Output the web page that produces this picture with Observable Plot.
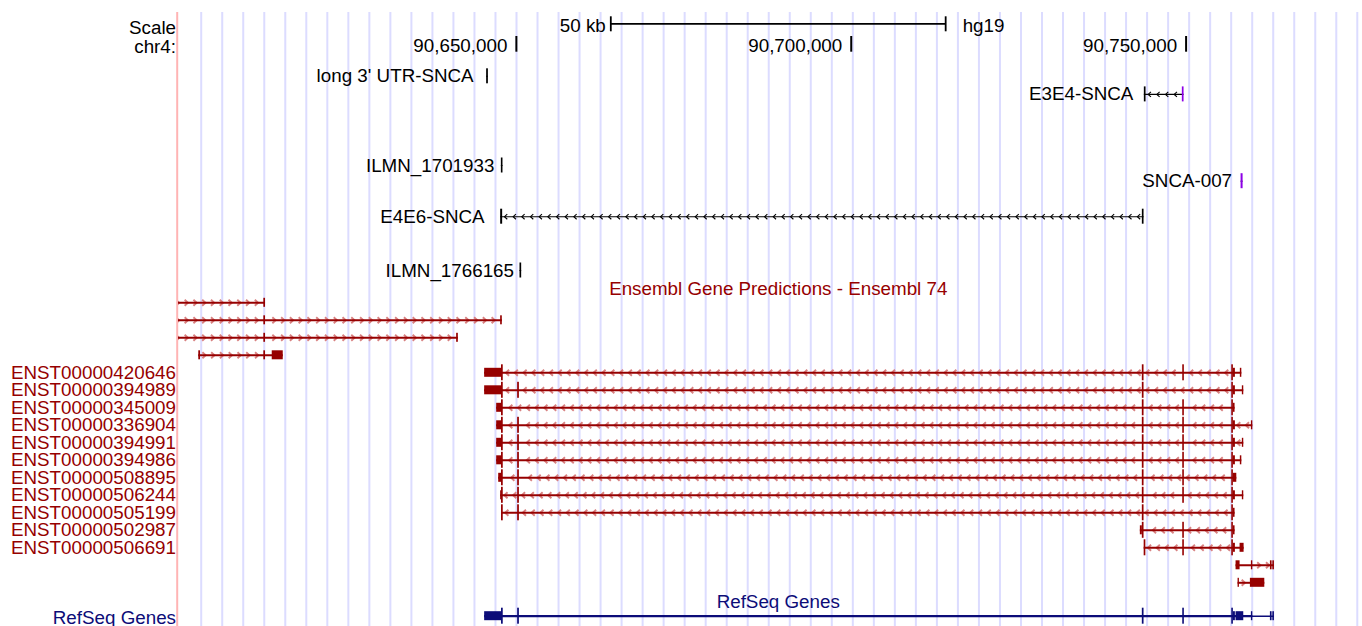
<!DOCTYPE html>
<html><head><meta charset="utf-8">
<script src="https://cdn.jsdelivr.net/npm/d3@7"></script>
<script src="https://cdn.jsdelivr.net/npm/@observablehq/plot@0.6"></script>
<style>
html,body{margin:0;padding:0;background:#fff}
#chart svg{display:block}
</style>
</head><body><div id="chart"></div>
<script>
// ---------------- data (genomic coordinates, hg19 chr4) ----------------
const chromLabel = "chr4:";
const scaleLabel = "Scale";
const assembly = "hg19";
const viewRange = [90599550, 90776340];
const rulerTicks = [90650000, 90700000, 90750000];
const scaleBarSpan = [90664100, 90714100];
const scaleBarText = "50 kb";

// custom tracks (one item each)
const customNames  = ["long 3' UTR-SNCA", "E3E4-SNCA", "ILMN_1701933", "SNCA-007", "E4E6-SNCA", "ILMN_1766165"];
const customStrand = [".", "-", ".", ".", "-", "."];
const customBlocks = [
  [[90645560, 90645820, "exon"]],
  [[90743766, 90744020, "exon"], [90749440, 90749695, "mark"]],
  [[90647760, 90648000, "exon"]],
  [[90758210, 90758510, "mark"]],
  [[90647654, 90647950, "exon"], [90743470, 90743720, "exon"]],
  [[90650540, 90650790, "exon"]]
];

// Ensembl Gene Predictions - Ensembl 74
const ensemblTitle = "Ensembl Gene Predictions - Ensembl 74";
const ensemblNames = ["", "", "", "",
  "ENST00000420646", "ENST00000394989", "ENST00000345009", "ENST00000336904",
  "ENST00000394991", "ENST00000394986", "ENST00000508895", "ENST00000506244",
  "ENST00000505199", "ENST00000502987", "ENST00000506691", "", ""];
const ensemblStrand = ["+", "+", "+", "+", "-", "-", "-", "-", "-", "-", "-", "-", "-", "-", "-", "+", "+"];
const ensemblExons = [
  [[90596000, 90596300, "utr"], [90612290, 90612545, "utr"]],
  [[90596000, 90596300, "utr"], [90612290, 90612545, "utr"], [90647650, 90647900, "utr"]],
  [[90596000, 90596300, "utr"], [90612290, 90612545, "utr"], [90641080, 90641335, "utr"]],
  [[90602580, 90602834, "utr"], [90612290, 90612545, "utr"], [90613546, 90615190, "utr"]],
  [[90645264, 90647780, "utr"], [90647780, 90648040, "cds"], [90743465, 90743720, "cds"], [90749500, 90749740, "cds"], [90756820, 90757060, "cds"], [90757060, 90757360, "utr"], [90758100, 90758320, "utr"]],
  [[90645264, 90647780, "utr"], [90647780, 90648040, "cds"], [90650190, 90650450, "cds"], [90743465, 90743720, "cds"], [90756820, 90757060, "cds"], [90757060, 90757360, "utr"], [90758400, 90758610, "utr"]],
  [[90647060, 90647780, "utr"], [90647780, 90648040, "cds"], [90743465, 90743720, "cds"], [90749500, 90749740, "cds"], [90756820, 90757060, "cds"], [90757060, 90757310, "utr"]],
  [[90647060, 90647780, "utr"], [90647780, 90648040, "cds"], [90650190, 90650450, "cds"], [90743465, 90743720, "cds"], [90749500, 90749740, "cds"], [90756820, 90757060, "cds"], [90757060, 90757360, "utr"], [90759750, 90759960, "utr"]],
  [[90647060, 90647780, "utr"], [90647780, 90648040, "cds"], [90650190, 90650450, "cds"], [90743465, 90743720, "cds"], [90749500, 90749740, "cds"], [90756820, 90757060, "cds"], [90757060, 90757360, "utr"], [90758400, 90758610, "utr"]],
  [[90647060, 90647780, "utr"], [90647780, 90648040, "cds"], [90650190, 90650450, "cds"], [90743465, 90743720, "cds"], [90749500, 90749740, "cds"], [90756820, 90757060, "cds"], [90757060, 90757360, "utr"], [90758100, 90758320, "utr"]],
  [[90647360, 90647780, "utr"], [90647780, 90648040, "cds"], [90650190, 90650450, "cds"], [90743465, 90743720, "cds"], [90749500, 90749740, "cds"], [90756820, 90757060, "cds"], [90757060, 90757570, "utr"]],
  [[90647650, 90647780, "utr"], [90647780, 90648040, "cds"], [90650190, 90650450, "cds"], [90743465, 90743720, "cds"], [90749500, 90749740, "cds"], [90756820, 90757060, "cds"], [90757060, 90757360, "utr"], [90758400, 90758610, "utr"]],
  [[90647780, 90648040, "cds"], [90650190, 90650450, "cds"], [90743465, 90743720, "cds"], [90756820, 90757060, "cds"], [90757060, 90757310, "utr"]],
  [[90743170, 90743465, "utr"], [90743465, 90743720, "cds"], [90749500, 90749740, "cds"], [90756820, 90757060, "cds"], [90757060, 90757310, "utr"]],
  [[90743740, 90743990, "cds"], [90749500, 90749740, "cds"], [90756820, 90757060, "cds"], [90757060, 90757360, "utr"], [90758060, 90758660, "utr"]],
  [[90757460, 90758060, "utr"], [90759750, 90759960, "utr"], [90762590, 90762840, "utr"], [90762950, 90763190, "utr"]],
  [[90757760, 90757960, "utr"], [90759600, 90761750, "utr"]]
];

// RefSeq Genes (dense)
const refseqTitle = "RefSeq Genes";
const refseqStrand = ["-", "+"];
const refseqExons = [
  [[90645264, 90647780, "utr"], [90647780, 90648040, "cds"], [90650190, 90650450, "cds"], [90743465, 90743720, "cds"], [90749500, 90749740, "cds"], [90756820, 90757060, "cds"], [90757060, 90757360, "utr"], [90759750, 90759960, "utr"]],
  [[90757460, 90758610, "utr"], [90762590, 90762840, "utr"], [90762950, 90763190, "utr"]]
];

// ---------------- layout / style ----------------
const W = 1362, H = 626, ML = 178;
const FONT = "Liberation Sans, Arial, Helvetica, sans-serif";
const FS = 18.8;
const Y = {
  top: 12, scaleBar: 23.3, scaleText: 25.7, scaleLbl: 27, chrLbl: 46.7,
  rulerTick: [36, 51.7], rulerText: 45.7,
  custom: [75.8, 93.9, 165, 180.7, 216.2, 270],
  ensTitle: 288, ensRow0: 302.3, ensStep: 17.5,
  refTitle: 601, refRow: 615.7
};
const customLabelGap = [13, 11, 7, 9, 16, 6];
const FULL = 16, HALF = 9, CUSTOM_H = 15;
const ENS = "#960000", ENS_BARB = "#d88282", REF = "#0c0c78", MARK = "#8c00e6";
const bpPerPx = (viewRange[1] - viewRange[0]) / (W - ML);
const guideStart = viewRange[0] + 22.7 * bpPerPx, guideStep = 21.02 * bpPerPx;

const chevron = dir => ({
  draw(ctx, size) {
    const r = Math.sqrt(size / Math.PI);
    const w = r * 0.55 * dir;
    ctx.moveTo(w, -r); ctx.lineTo(-w, 0); ctx.lineTo(w, r);
  }
});
const chevL = chevron(1), chevR = chevron(-1);

function barbs(start, end, blocks, stepPx) {
  const step = stepPx * bpPerPx, out = [];
  for (let p = start + step * 0.6; p < end - step * 0.2; p += step) {
    if (blocks.some(([s, e]) => p > s - step * 0.3 && p < e + step * 0.3)) continue;
    out.push(p);
  }
  return out;
}

// build feature tables
const lines = [], rects = [], barbPts = [], labels = [];
function addFeature({exons, strand, y, color, barbColor, lineW, full, half, stepPx, barbR, barbW, kindColor, label, labelColor, labelGap, noBarbs}) {
  const start = d3.min(exons, d => d[0]), end = d3.max(exons, d => d[1]);
  lines.push({x1: start, x2: end, y, color, w: lineW});
  for (const [s, e, k] of exons) {
    const h = (k === "cds" || k === "exon" || k === "mark") ? full : half;
    rects.push({x1: s, x2: e, y1: y - h / 2, y2: y + h / 2, color: kindColor ? kindColor(k) : color});
  }
  if (!noBarbs && (strand === "+" || strand === "-")) {
    for (const p of barbs(start, end, exons, stepPx))
      barbPts.push({x: p, y, color: barbColor, sym: strand === "-" ? chevL : chevR, r: barbR, w: barbW});
  }
  if (label) labels.push({x: start, y, text: label, color: labelColor, gap: labelGap});
}

customNames.forEach((name, i) => addFeature({
  exons: customBlocks[i], strand: customStrand[i], y: Y.custom[i], color: "#000", barbColor: "#000",
  lineW: 1.1, full: CUSTOM_H, half: CUSTOM_H, stepPx: 8.67, barbR: 2.7, barbW: 1.1,
  kindColor: k => k === "mark" ? MARK : "#000", label: name, labelColor: "#000", labelGap: customLabelGap[i]
}));

const ensRows = ensemblExons.map((ex, i) => ({name: ensemblNames[i], y: Y.ensRow0 + i * Y.ensStep}));
ensemblExons.forEach((ex, i) => addFeature({
  exons: ex, strand: ensemblStrand[i], y: ensRows[i].y, color: ENS, barbColor: ENS_BARB,
  lineW: 2, full: FULL, half: HALF, stepPx: 8.77, barbR: 3.7, barbW: 1.9
}));

refseqExons.forEach((ex, i) => addFeature({
  exons: ex, strand: refseqStrand[i], y: Y.refRow, color: REF, lineW: i === 0 ? 2.2 : 1.4,
  full: FULL, half: HALF, noBarbs: true
}));

const guides = d3.range(guideStart, viewRange[1], guideStep);
const txt = {fontFamily: FONT, fontSize: FS, lineAnchor: "middle"};

const plot = Plot.plot({
  width: W, height: H,
  marginLeft: ML, marginRight: 0, marginTop: 0, marginBottom: 0,
  style: {fontFamily: FONT, fontSize: FS + "px", background: "#fff", overflow: "visible"},
  x: {domain: viewRange, axis: null},
  y: {type: "identity", axis: null},
  marks: [
    // guide lines
    Plot.ruleX(guides, {x: d => d, y1: Y.top, y2: H, stroke: "#dcdcff", strokeWidth: 2}),
    Plot.ruleX([viewRange[0]], {x: d => d, y1: Y.top, y2: H, stroke: "#ffb4b4", strokeWidth: 2, dx: -1.3}),

    // scale bar
    Plot.ruleY([scaleBarSpan], {x1: d => d[0], x2: d => d[1], y: () => Y.scaleBar, stroke: "#000", strokeWidth: 1.8}),
    Plot.ruleX(scaleBarSpan, {x: d => d, y1: Y.scaleBar - 7, y2: Y.scaleBar + 8, stroke: "#000", strokeWidth: 1.8}),
    Plot.text([scaleBarText], {x: () => scaleBarSpan[0], y: () => Y.scaleText, text: d => d, textAnchor: "end", dx: -5, fill: "#000", ...txt}),
    Plot.text([assembly], {x: () => scaleBarSpan[1], y: () => Y.scaleText, text: d => d, textAnchor: "start", dx: 17, fill: "#000", ...txt}),

    // ruler
    Plot.ruleX(rulerTicks, {x: d => d, y1: Y.rulerTick[0], y2: Y.rulerTick[1], stroke: "#000", strokeWidth: 2}),
    Plot.text(rulerTicks, {x: d => d, y: () => Y.rulerText, text: d => d3.format(",")(d), textAnchor: "end", dx: -9, fill: "#000", ...txt}),
    Plot.text([scaleLabel, chromLabel], {x: () => viewRange[0], y: (d, i) => i === 0 ? Y.scaleLbl : Y.chrLbl, text: d => d, textAnchor: "end", dx: -2.5, fill: "#000", ...txt}),

    // track titles
    Plot.text([ensemblTitle], {x: () => (scaleBarSpan[0] + scaleBarSpan[1]) / 2, y: () => Y.ensTitle, text: d => d, fill: ENS, ...txt}),
    Plot.text([refseqTitle], {x: () => (scaleBarSpan[0] + scaleBarSpan[1]) / 2, y: () => Y.refTitle, text: d => d, fill: REF, ...txt}),

    // features
    Plot.dot(barbPts, {x: "x", y: "y", symbol: d => d.sym, r: d => d.r, stroke: d => d.color, strokeWidth: d => d.w, fill: "none", clip: true}),
    Plot.ruleY(lines, {x1: "x1", x2: "x2", y: "y", stroke: d => d.color, strokeWidth: d => d.w, clip: true}),
    Plot.rect(rects, {x1: "x1", x2: "x2", y1: "y1", y2: "y2", fill: d => d.color, clip: true}),

    // item labels (one text mark per label so each keeps its own gap)
    ...labels.map(l => Plot.text([l], {x: "x", y: "y", text: "text", fill: l.color, textAnchor: "end", dx: -l.gap, ...txt})),

    // left labels
    Plot.text(ensRows.filter(d => d.name), {x: () => viewRange[0], y: "y", text: "name", fill: ENS, textAnchor: "end", dx: -2.5, ...txt}),
    Plot.text([refseqTitle], {x: () => viewRange[0], y: () => Y.refRow + 1.5, text: d => d, fill: REF, textAnchor: "end", dx: -2.5, ...txt})
  ]
});
document.getElementById("chart").appendChild(plot);
</script>
</body></html>
